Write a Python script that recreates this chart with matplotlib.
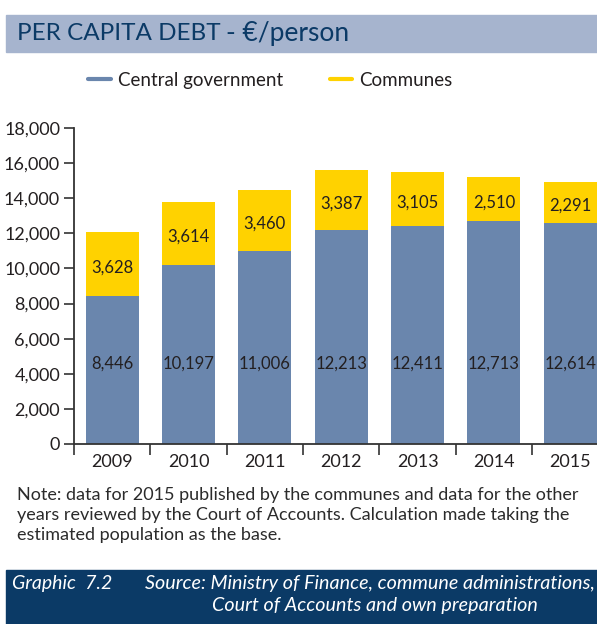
import matplotlib
matplotlib.use("Agg")
import matplotlib.pyplot as plt
from matplotlib.patches import Rectangle
from matplotlib.lines import Line2D
from matplotlib.text import Annotation

years = ["2009", "2010", "2011", "2012", "2013", "2014", "2015"]
central = [8446, 10197, 11006, 12213, 12411, 12713, 12614]
communes = [3628, 3614, 3460, 3387, 3105, 2510, 2291]
yticks = [0, 2000, 4000, 6000, 8000, 10000, 12000, 14000, 16000, 18000]

BLUE = "#6A86AD"
YELLOW = "#FFD200"
NAVY = "#0B3A66"
BAND = "#A6B4CE"
TXT = "#231F20"

plt.rcParams["font.family"] = ["Lato", "DejaVu Sans"]

W, H = 597, 624
fig = plt.figure(figsize=(W / 100, H / 100), dpi=100)

def fx(px):
    return px / W

def fy(py):
    return 1 - py / H

# Title band
fig.patches.append(Rectangle((fx(6), fy(52)), 1 - fx(6), (52 - 15) / H,
                             transform=fig.transFigure, color=BAND, zorder=0))
title = fig.text(fx(17), fy(34), "PER CAPITA DEBT", fontsize=17.5, color=NAVY,
                 va="center", ha="left")
fig.add_artist(Annotation(
    "- €/person", xy=(1, 0.5), xycoords=title, xytext=(4, 0),
    textcoords="offset points", fontsize=19, color=NAVY,
    va="center", ha="left"))

# Legend
for x0, x1, col, label in [(88, 111, BLUE, "Central government"),
                           (330, 352, YELLOW, "Communes")]:
    fig.add_artist(Line2D([fx(x0), fx(x1)], [fy(79), fy(79)], color=col,
                          lw=3, transform=fig.transFigure,
                          solid_capstyle="round"))
    fig.text(fx(x1 + 7), fy(80.5), label, fontsize=13.5, color=TXT,
             va="center", ha="left")

# Chart
ax = fig.add_axes([fx(74), fy(444), 1 - fx(74), (444 - 128) / H])
x = list(range(len(years)))
ax.bar(x, central, width=0.695, color=BLUE, zorder=2)
ax.bar(x, communes, width=0.695, bottom=central, color=YELLOW, zorder=2)

for i in x:
    ax.text(i, 4600, f"{central[i]:,}", ha="center", va="center",
            fontsize=12, color=TXT, zorder=3)
    ax.text(i, central[i] + communes[i] / 2 - 200, f"{communes[i]:,}",
            ha="center", va="center", fontsize=12, color=TXT, zorder=3)

ax.set_xlim(-0.5, 6.35)
ax.set_ylim(0, 18000)
ax.set_yticks(yticks)
ax.set_yticklabels([f"{v:,}" for v in yticks])
ax.set_xticks(x)
ax.set_xticklabels(years)
ax.set_xticks([i - 0.5 for i in x], minor=True)
ax.tick_params(axis="x", which="major", length=0, pad=7, labelsize=13,
               labelcolor=TXT)
ax.tick_params(axis="x", which="minor", length=8, width=1.2, color="#333333",
               direction="out")
ax.tick_params(axis="y", length=7, width=1.2, color="#333333", labelsize=13,
               labelcolor=TXT, pad=3)
for s in ("top", "right"):
    ax.spines[s].set_visible(False)
for s in ("left", "bottom"):
    ax.spines[s].set_color("#333333")
    ax.spines[s].set_linewidth(1.3)
ax.set_facecolor("none")

# Note
note = ("Note: data for 2015 published by the communes and data for the other\n"
        "years reviewed by the Court of Accounts. Calculation made taking the\n"
        "estimated population as the base.")
fig.text(fx(17), fy(487), note, fontsize=13, color="#2B2B2B", va="top",
         ha="left", linespacing=1.3)

# Footer band
fig.patches.append(Rectangle((fx(6), 0), 1 - fx(6), (H - 570) / H,
                             transform=fig.transFigure, color=NAVY, zorder=0))
fig.text(fx(12), fy(584), "Graphic  7.2", fontsize=14, color="white",
         style="italic", va="center", ha="left")
fig.text(fx(145), fy(584), "Source: Ministry of Finance, commune administrations,",
         fontsize=14.2, color="white", style="italic", va="center", ha="left")
fig.text(fx(212), fy(606), "Court of Accounts and own preparation",
         fontsize=14.2, color="white", style="italic", va="center", ha="left")

fig.savefig("out.png", dpi=100)
